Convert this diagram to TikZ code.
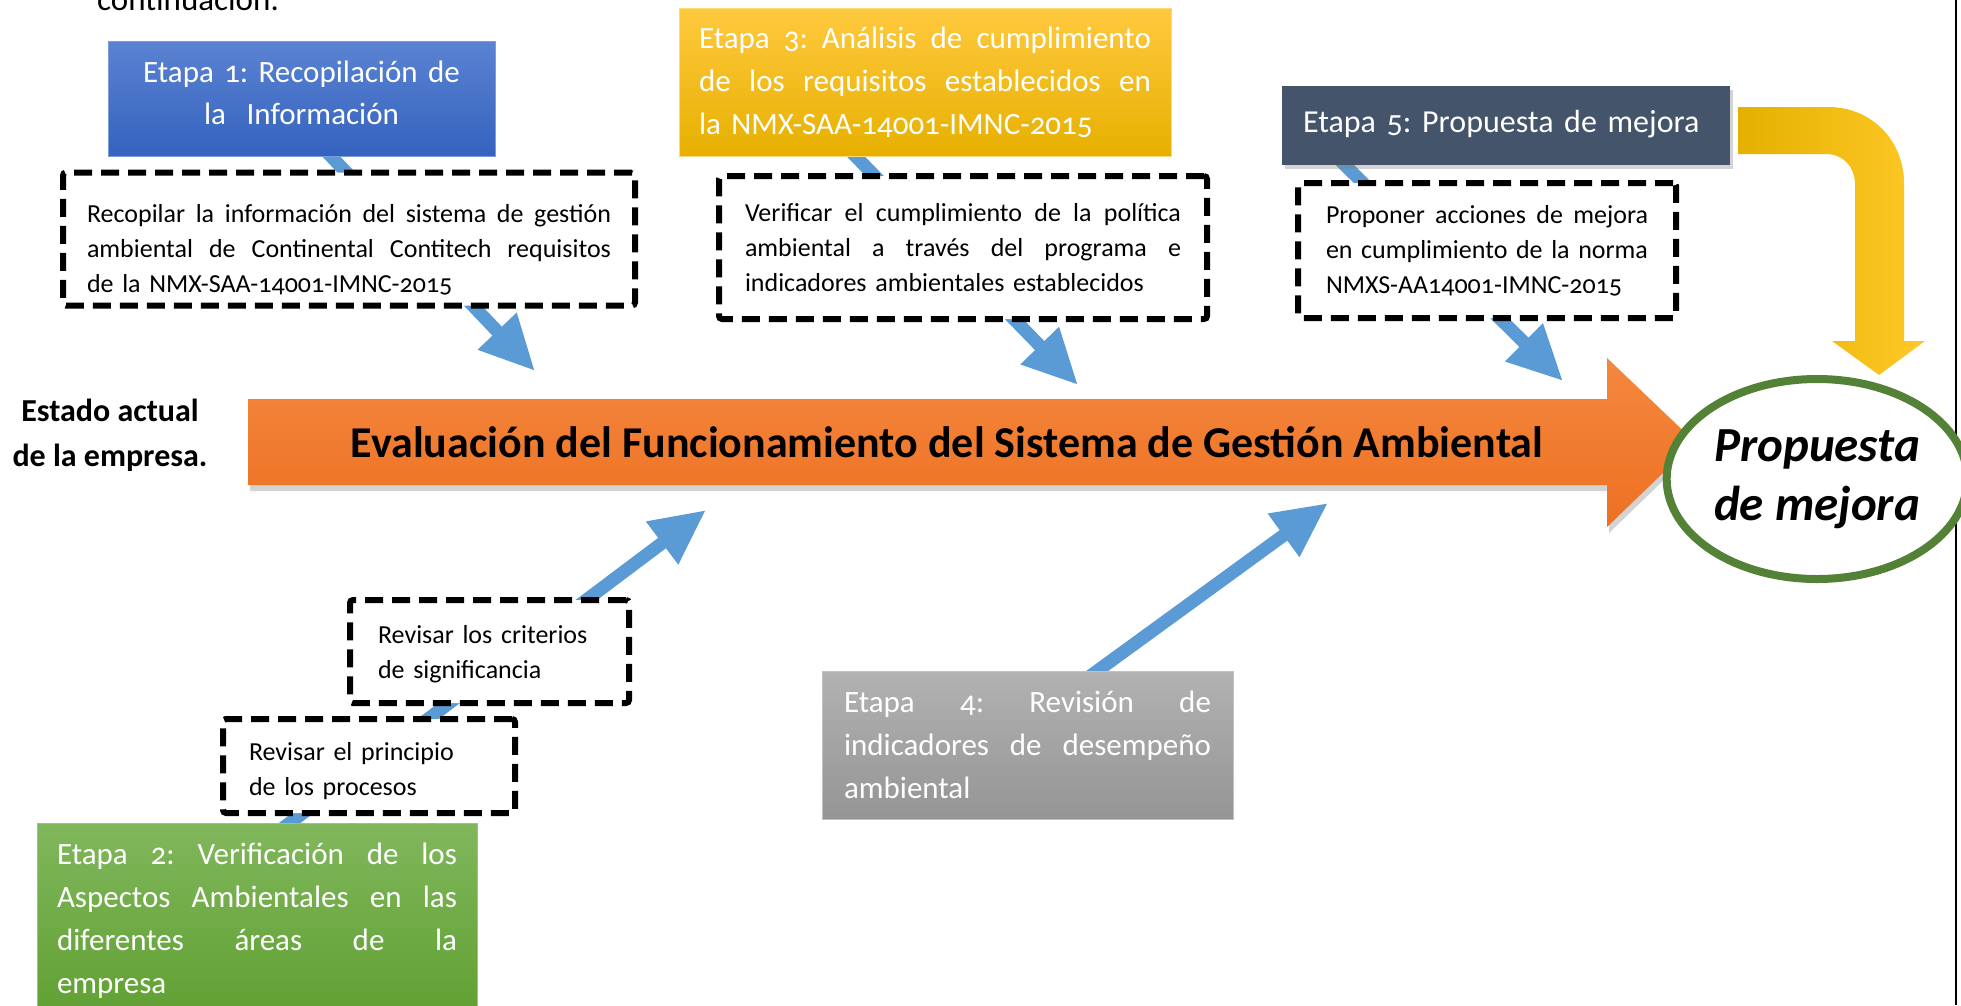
\documentclass[tikz,border=0pt]{standalone}
\usepackage{fontspec}
\setmainfont{Carlito}[Numbers=OldStyle]
\usetikzlibrary{arrows.meta,shapes.geometric,shadows,backgrounds,calc}
\definecolor{blueTop}{HTML}{5B83D2}
\definecolor{blueBot}{HTML}{3462BE}
\definecolor{yelTop}{HTML}{FFC93F}
\definecolor{yelBot}{HTML}{E7B000}
\definecolor{slate}{HTML}{44546A}
\definecolor{greyTop}{HTML}{B2B2B2}
\definecolor{greyBot}{HTML}{959595}
\definecolor{greenTop}{HTML}{80B75C}
\definecolor{greenBot}{HTML}{60A032}
\definecolor{orTop}{HTML}{F4883F}
\definecolor{orBot}{HTML}{ED7022}
\definecolor{arrowblue}{HTML}{5B9BD5}
\definecolor{ringgreen}{HTML}{538135}
\definecolor{goldL}{HTML}{E4B100}
\definecolor{goldR}{HTML}{FFC828}
% a justified line: words separated by \J fill the given width
\newcommand\jline[2]{\leavevmode\hbox to #1{#2}}
\newcommand\J{\hskip .22em plus 1fil\relax}
\newcommand\fsz[2]{\fontsize{#1}{#2}\selectfont\frenchspacing}
\begin{document}
\begin{tikzpicture}[x=1pt,y=-1pt,
  stagebox/.style={inner ysep=0pt, text=white, align=left,
    font=\fsz{31}{43}},
  dbox/.style={draw=black, line width=6pt, dash pattern=on 18pt off 9pt,
    fill=white, rounded corners=3pt, align=left, inner ysep=0pt,
    font=\fsz{26}{35}},
  barrow/.style={draw=arrowblue, line width=13pt,
    -{Triangle[length=55pt,width=50pt]}}]
\useasboundingbox (0,0) rectangle (1961,1005);

% text cut at the top of the page
\node[anchor=base west, inner sep=0pt, font=\fsz{33}{38}] (cont) at (97,10) {continuación:};
% page border line at the right
\draw[line width=2.5pt] (1956,0) -- (1956,1005);

% Etapa 1
\node[stagebox, top color=blueTop, bottom color=blueBot, draw=blueTop!80!white, line width=1pt,
  text width=357pt, inner xsep=15pt, minimum height=115pt, align=center,
  font=\fsz{31}{42}] (e1) at (301.5,98.5)
  {Etapa 1: Recopilación de\\la\ \ Información\\[-31pt]\mbox{}};
\node[dbox, text width=524pt, inner xsep=24pt, minimum height=133pt] (d1) at (349,239)
  {\jline{524pt}{\rule{0pt}{40pt}Recopilar\J la\J información\J del\J sistema\J de\J gestión}\\
   \jline{524pt}{ambiental\J de\J Continental\J Contitech\J requisitos}\\
   de la NMX-SAA-14001-IMNC-2015};

% Etapa 3
\node[stagebox, top color=yelTop, bottom color=yelBot, draw=yelTop!70!white, line width=1pt,
  text width=452pt, inner xsep=20pt, minimum height=148pt] (e3) at (925,82)
  {\jline{452pt}{Etapa\J 3:\J Análisis\J de\J cumplimiento}\\
   \jline{452pt}{de\J los\J requisitos\J establecidos\J en}\\
   la NMX-SAA-14001-IMNC-2015};
\node[dbox, text width=436pt, inner xsep=26pt, minimum height=143pt] (d3) at (963,247.5)
  {\jline{436pt}{Verificar\J el\J cumplimiento\J de\J la\J política}\\
   \jline{436pt}{ambiental\J a\J través\J del\J programa\J e}\\
   indicadores ambientales establecidos};

% Etapa 5
\node[stagebox, fill=slate, text width=406pt, inner xsep=21pt, minimum height=79pt,
  font=\fsz{32}{43},
  drop shadow={opacity=0.35, shadow xshift=3pt, shadow yshift=-4pt}] (e5) at (1506,125.5)
  {\raisebox{8pt}{Etapa 5: Propuesta de mejora}};
\node[dbox, text width=322pt, inner xsep=28pt, minimum height=135pt] (d5) at (1487,250.5)
  {\jline{322pt}{Proponer\J acciones\J de\J mejora}\\
   \jline{322pt}{en\J cumplimiento\J de\J la\J norma}\\
   NMXS-AA14001-IMNC-2015};

% Etapa 2
\node[stagebox, top color=greenTop, bottom color=greenBot, draw=greenTop!80!white, line width=1pt,
  text width=400pt, inner xsep=20pt, minimum height=195pt] (e2) at (257,920.5)
  {\jline{400pt}{Etapa\J 2:\J Verificación\J de\J los}\\
   \jline{400pt}{Aspectos\J Ambientales\J en\J las}\\
   \jline{400pt}{diferentes\J áreas\J de\J la}\\
   empresa};
\node[dbox, text width=240pt, inner xsep=26pt, minimum height=94pt] (d2a) at (369,766)
  {\rule{0pt}{28pt}Revisar el principio\\de los procesos};
\node[dbox, text width=223pt, inner xsep=28pt, minimum height=103pt] (d2b) at (489.5,651.5)
  {\rule{0pt}{24pt}Revisar los criterios\\de significancia};

% Etapa 4
\node[stagebox, top color=greyTop, bottom color=greyBot, draw=greyTop!80!white, line width=1pt,
  text width=367pt, inner xsep=22pt, minimum height=148pt] (e4) at (1027.5,745)
  {\jline{367pt}{Etapa\J 4:\J Revisión\J de}\\
   \jline{367pt}{indicadores\J de\J desempeño}\\
   ambiental};

% left label
\node[align=center, font=\fsz{32}{45}\bfseries] (estado) at (110,435)
  {Estado actual\\de la empresa.};

% big orange arrow
\shade[top color=orTop, bottom color=orBot,
  drop shadow={opacity=0.35, shadow xshift=2pt, shadow yshift=-6pt}]
  (248,399) -- (1607,399) -- (1607,358) -- (1695,442) -- (1607,527) -- (1607,485) -- (248,485) -- cycle;
\node[font=\fsz{44}{50}\bfseries] (title) at (947,442)
  {Evaluación del Funcionamiento del Sistema de Gestión Ambiental};

% result ellipse
\node[ellipse, draw=ringgreen, line width=8pt, fill=white, minimum width=262pt, minimum height=200pt,
  align=center, font=\fsz{49}{59}\bfseries\itshape] (prop) at (1817,479)
  {Propuesta\\de mejora};

% gold bent arrow from Etapa 5 to the result
\coordinate (g0) at ($(e5.east)+(8,5.5)$);
\shade[left color=goldL, right color=goldR]
  (g0 |- 0,107) -- (1828,107) .. controls (1872,107) and (1904,141) .. (1904,183)
  -- (1904,341) -- (1925,341) -- (prop.north -| 1879,0) -- (1832,341) -- (1855,341)
  -- (1855,184) .. controls (1855,167) and (1843,154) .. (1826,154) -- (g0 |- 0,154) -- cycle;

% blue connectors
\coordinate (t1) at (535,371);
\coordinate (t3) at (1078,385);
\coordinate (t5) at (1563,381);
\coordinate (t2) at (706,510);
\coordinate (t4) at (1328,503);
\begin{scope}[on background layer]
  \draw[barrow] ($(e1.south)+(24,-6)$) -- (t1);
  \draw[barrow] ($(e3.south)+(-75,-6)$) -- (t3);
  \draw[barrow] ($(e5.south)+(-166,-5)$) -- (t5);
  \draw[barrow] ($(e2.north)+(24,7)$) -- (t2);
  \draw[barrow] ($(e4.north)+(58,9)$) -- (t4);
\end{scope}
\end{tikzpicture}
\end{document}
